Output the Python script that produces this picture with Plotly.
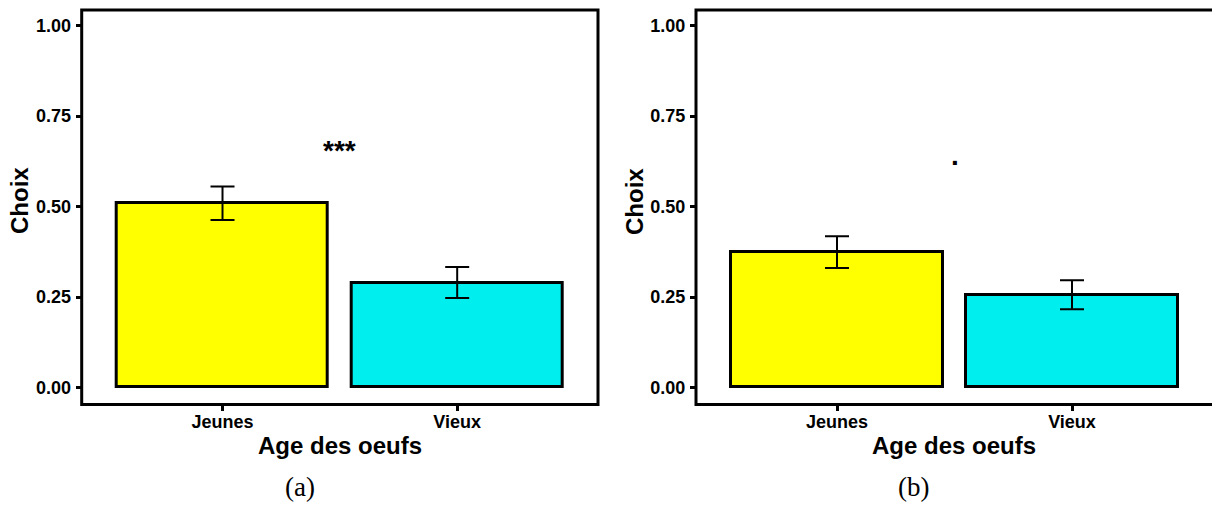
import plotly.graph_objects as go

# Egg-age choice data for the two experiments
categories = ["Jeunes", "Vieux"]
choix_a = [0.509, 0.290]
err_a = [0.046, 0.043]
choix_b = [0.374, 0.256]
err_b = [0.044, 0.040]
sig_a = "***"
sig_b = "."
sig_y_a = 0.655
sig_y_b = 0.64
y_ticks = [0.0, 0.25, 0.5, 0.75, 1.0]
y_tick_labels = ["0.00", "0.25", "0.50", "0.75", "1.00"]
bar_colors = ["#FFFF00", "#00EEEE"]

W, H = 1212, 506
SANS = "Liberation Sans"


def px(x):
    return x / W


def py(y):
    return (H - y) / H


fig = go.Figure()

for data, errs, xa, ya in [(choix_a, err_a, "x", "y"), (choix_b, err_b, "x2", "y2")]:
    fig.add_trace(go.Bar(
        x=categories, y=data, width=0.9,
        marker=dict(color=bar_colors, line=dict(color="black", width=3)),
        error_y=dict(type="data", array=errs, color="black", thickness=2, width=12),
        xaxis=xa, yaxis=ya, showlegend=False,
    ))

tickfont = dict(family=SANS, size=18, color="black", weight="bold")
yaxis_common = dict(
    range=[-0.047, 1.043], tickvals=y_ticks, ticktext=y_tick_labels,
    ticks="outside", ticklen=5, tickwidth=3, tickcolor="black", ticklabelstandoff=1,
    showgrid=False, zeroline=False, showline=False, tickfont=tickfont,
    domain=[py(404.5), py(10)],
)
xaxis_common = dict(
    type="category", ticks="outside", ticklen=5, tickwidth=3, tickcolor="black",
    ticklabelstandoff=-4,
    showgrid=False, zeroline=False, showline=False, tickfont=tickfont,
)

fig.update_layout(
    width=W, height=H, margin=dict(l=0, r=0, t=0, b=0),
    plot_bgcolor="white", paper_bgcolor="white", bargap=0,
    xaxis=dict(xaxis_common, domain=[px(81.7), px(598)], range=[-0.6, 1.6], anchor="y"),
    yaxis=dict(yaxis_common, anchor="x"),
    xaxis2=dict(xaxis_common, domain=[px(696), 1.0], range=[-0.6, -0.6 + 516 / 235], anchor="y2"),
    yaxis2=dict(yaxis_common, anchor="x2"),
)

# Panel frames (right panel runs past the page edge)
fig.add_shape(type="rect", xref="x domain", yref="y domain", x0=0, x1=1, y0=0, y1=1,
              line=dict(color="black", width=3))
fig.add_shape(type="rect", xref="x2 domain", yref="y2 domain", x0=0, x1=1.05, y0=0, y1=1,
              line=dict(color="black", width=3))

title_font = dict(family=SANS, size=24, color="black", weight="bold")
caption_font = dict(family="Liberation Serif", size=27, color="black")
sig_font = dict(family=SANS, size=28, color="black", weight="bold")

for xa, ya, sig, sy, xc_title, ylab_x, xc_cap, cap in [
    ("x", "y", sig_a, sig_y_a, 340, 19, 299.5, "(a)"),
    ("x2", "y2", sig_b, sig_y_b, 954, 634, 913, "(b)"),
]:
    fig.add_annotation(x=0.5, y=sy, xref=xa, yref=ya, text=sig, showarrow=False,
                       font=sig_font, yanchor="middle")
    fig.add_annotation(x=px(xc_title), y=py(445), xref="paper", yref="paper",
                       text="Age des oeufs", showarrow=False, font=title_font,
                       xanchor="center", yanchor="middle")
    fig.add_annotation(x=px(ylab_x), y=py(201), xref="paper", yref="paper",
                       text="Choix", showarrow=False, font=title_font, textangle=-90,
                       xanchor="center", yanchor="middle")
    fig.add_annotation(x=px(xc_cap), y=py(487), xref="paper", yref="paper",
                       text=cap, showarrow=False, font=caption_font,
                       xanchor="center", yanchor="middle")

fig.write_html("out.html")
